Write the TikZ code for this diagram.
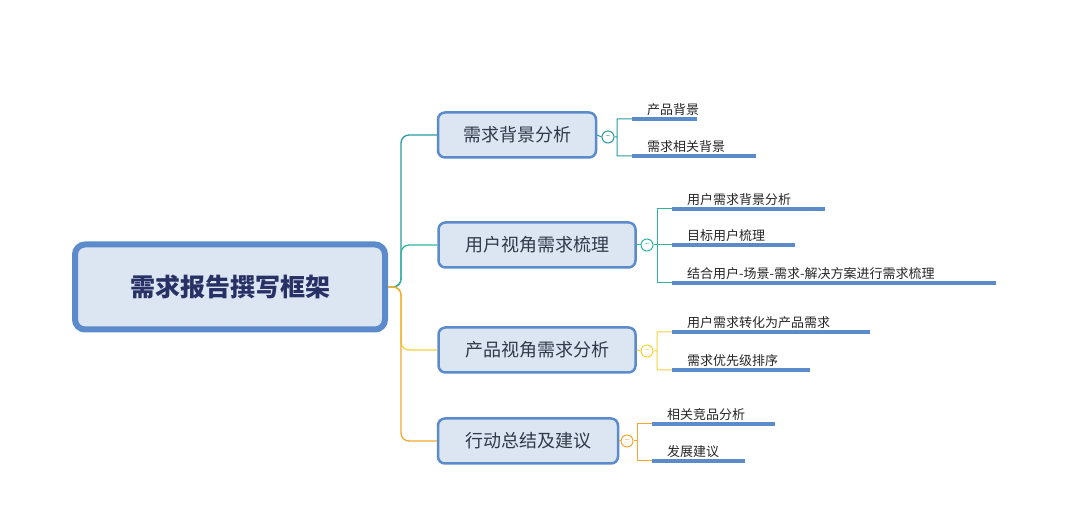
\documentclass[tikz,border=0pt]{standalone}
\usepackage{fontspec}
\setmainfont{Noto Sans CJK SC}
\usetikzlibrary{positioning}
\definecolor{boxfill}{HTML}{DCE6F2}
\definecolor{boxline}{HTML}{5B8BCB}
\definecolor{cteal}{HTML}{2A9AA0}
\definecolor{cgreen}{HTML}{2DB5A0}
\definecolor{cyellow}{HTML}{F5D33A}
\definecolor{corange}{HTML}{F0A830}
\definecolor{txt}{HTML}{2F3A4A}

\begin{document}
\begin{tikzpicture}[x=1pt, y=-1pt,
    rootbox/.style={draw=boxline, line width=6pt, fill=boxfill, rounded corners=10pt, minimum width=310pt, minimum height=85pt, font=\fontsize{25}{28}\selectfont\bfseries, text=txt!85!blue},
    branch/.style={draw=boxline, line width=2.5pt, fill=boxfill, rounded corners=7pt, minimum height=45pt, font=\fontsize{18}{20}\selectfont, text=txt},
    leaf/.style={anchor=south west, inner sep=3pt, font=\fontsize{13}{15}\selectfont, text=black!85},
    uline/.style={draw=boxline, line width=3.5pt},
    knob/.style={circle, draw=#1, line width=1pt, fill=white, inner sep=0pt, minimum size=12pt, font=\fontsize{9}{9}\selectfont, text=#1},
    link/.style={draw=#1, line width=1.3pt, rounded corners=8pt}]
    \useasboundingbox (0,0) rectangle (1080,529);

    \node[rootbox] (root) at (230,287) {需求报告撰写框架};
    \node[branch, minimum width=158pt] (b1) at (517,135) {需求背景分析};
    \node[branch, minimum width=197pt] (b2) at (537,245) {用户视角需求梳理};
    \node[branch, minimum width=197pt] (b3) at (537,350) {产品视角需求分析};
    \node[branch, minimum width=180pt] (b4) at (528,441) {行动总结及建议};

    % root to branches
    \coordinate (fork) at (401,287);
    \path[link=cteal] (root.east) -- (fork) |- (b1.west);
    \path[link=cgreen] (root.east) -- (fork) |- (b2.west);
    \path[link=cyellow] (root.east) -- (fork) |- (b3.west);
    \path[link=corange] (root.east) -- (fork) |- (b4.west);

    % collapse knobs
    \node[knob=cteal] (k1) at (608,137) {--};
    \node[knob=cgreen] (k2) at (647,245) {--};
    \node[knob=cyellow] (k3) at (647,351) {--};
    \node[knob=corange] (k4) at (627,441) {--};

    % leaves
    \coordinate (u11) at (632,119); \coordinate (u12) at (632,156);
    \node[leaf] (l11) at (644,119) {产品背景};
    \node[leaf] (l12) at (644,156) {需求相关背景};
    \draw[uline] (u11) -- ++(65,0);
    \draw[uline] (u12) -- ++(124,0);

    \coordinate (u21) at (672,209); \coordinate (u22) at (672,245); \coordinate (u23) at (672,283);
    \node[leaf] (l21) at (684,209) {用户需求背景分析};
    \node[leaf] (l22) at (684,245) {目标用户梳理};
    \node[leaf] (l23) at (684,283) {结合用户-场景-需求-解决方案进行需求梳理};
    \draw[uline] (u21) -- ++(153,0);
    \draw[uline] (u22) -- ++(123,0);
    \draw[uline] (u23) -- ++(324,0);

    \coordinate (u31) at (672,332); \coordinate (u32) at (672,370);
    \node[leaf] (l31) at (684,332) {用户需求转化为产品需求};
    \node[leaf] (l32) at (684,370) {需求优先级排序};
    \draw[uline] (u31) -- ++(198,0);
    \draw[uline] (u32) -- ++(138,0);

    \coordinate (u41) at (652,424); \coordinate (u42) at (652,461);
    \node[leaf] (l41) at (664,424) {相关竞品分析};
    \node[leaf] (l42) at (664,461) {发展建议};
    \draw[uline] (u41) -- ++(123,0);
    \draw[uline] (u42) -- ++(93,0);

    % knobs to leaves
    \draw[cteal, line width=1pt] (b1.east) -- (k1.west) (k1.east) -- (617,137) |- (u11) (617,137) |- (u12);
    \draw[cgreen, line width=1pt] (b2.east) -- (k2.west) (k2.east) -- (657,245) |- (u21) (657,245) |- (u22) (657,245) |- (u23);
    \draw[cyellow, line width=1pt] (b3.east) -- (k3.west) (k3.east) -- (657,351) |- (u31) (657,351) |- (u32);
    \draw[corange, line width=1pt] (b4.east) -- (k4.west) (k4.east) -- (637,441) |- (u41) (637,441) |- (u42);
\end{tikzpicture}
\end{document}
